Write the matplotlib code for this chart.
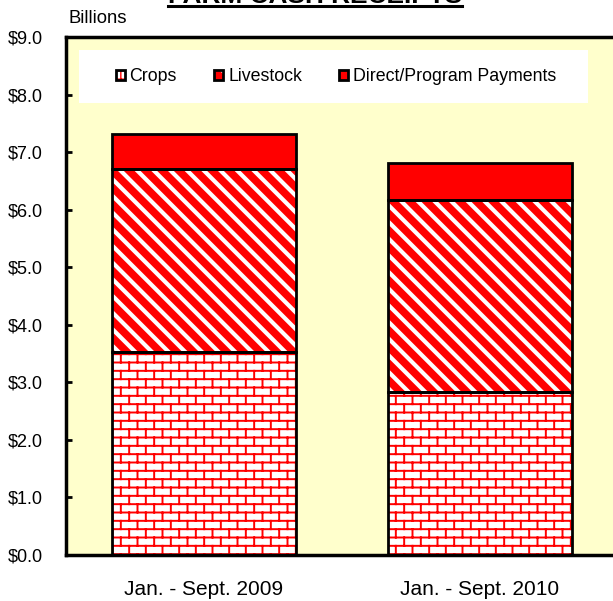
import warnings
import matplotlib
matplotlib.use('Agg')
import matplotlib.pyplot as plt
from matplotlib import hatch as mhatch
from matplotlib.path import Path
from matplotlib.patches import Rectangle
from matplotlib.lines import Line2D
from matplotlib.legend_handler import HandlerTuple

warnings.filterwarnings('ignore')
plt.rcParams['font.family'] = ['Liberation Sans', 'DejaVu Sans']

periods = ['Jan. - Sept. 2009', 'Jan. - Sept. 2010']
crops = [3.52, 2.83]
livestock = [3.18, 3.33]
direct = [0.61, 0.65]
series_names = ['Crops', 'Livestock', 'Direct/Program Payments']
yticks = [0, 1, 2, 3, 4, 5, 6, 7, 8, 9]


class BrickHatch(mhatch.HatchPatternBase):
    # staggered brick texture, hatch char 'b'
    def __init__(self, hatch, density):
        n = hatch.count('b')
        self.rows = n * density * 2
        self.cols = n * density
        self.num_vertices = 2 * (self.rows + self.rows * self.cols + self.cols) if n else 0

    def set_vertices_and_codes(self, vertices, codes):
        segs = []
        h = 1.0 / self.rows
        for k in range(self.rows):
            y = (k + 0.5) * h
            segs.append(((0, y), (1, y)))
        for k in range(self.rows):
            y0 = (k + 0.5) * h
            y1 = y0 + h
            for j in range(self.cols):
                xx = (j + 0.25 + 0.5 * (k % 2)) / self.cols
                if y1 <= 1:
                    segs.append(((xx, y0), (xx, y1)))
                else:
                    segs.append(((xx, y0), (xx, 1)))
                    segs.append(((xx, 0), (xx, y1 - 1)))
        for i, (a, b) in enumerate(segs):
            vertices[2 * i] = a
            vertices[2 * i + 1] = b
            codes[2 * i] = Path.MOVETO
            codes[2 * i + 1] = Path.LINETO


mhatch._hatch_types.append(BrickHatch)


def hatch_lw(patches, lw):
    # per-artist hatch linewidth (rcParams is global otherwise)
    for p in patches:
        if hasattr(p, 'set_hatch_linewidth'):
            p.set_hatch_linewidth(lw)
        else:
            orig = p.draw

            def draw(renderer, _orig=orig):
                with plt.rc_context({'hatch.linewidth': lw}):
                    _orig(renderer)
            p.draw = draw


fig = plt.figure(figsize=(6.13, 6.01), dpi=100)
ax = fig.add_axes([0.107, 0.0765, 0.9005, 0.862])
ax.set_facecolor('#FFFFCC')

x = list(range(len(periods)))
w = 0.667
bottom2 = [c + l for c, l in zip(crops, livestock)]

b1 = ax.bar(x, crops, w, color='white', edgecolor='red', linewidth=0, hatch='b')
b2 = ax.bar(x, livestock, w, bottom=crops, color='red', edgecolor='white', linewidth=0, hatch='\\\\')
b3 = ax.bar(x, direct, w, bottom=bottom2, color='red', linewidth=0)
hatch_lw(b1, 1.4)
hatch_lw(b2, 3.0)

o1 = ax.bar(x, crops, w, fill=False, edgecolor='black', linewidth=2.0)
o2 = ax.bar(x, livestock, w, bottom=crops, fill=False, edgecolor='black', linewidth=2.0)
o3 = ax.bar(x, direct, w, bottom=bottom2, fill=False, edgecolor='black', linewidth=2.0)

ax.set_xlim(-0.5, 1.5)
ax.set_ylim(0, 9)
ax.set_yticks(yticks)
ax.set_yticklabels(['${:.1f}'.format(v) for v in yticks], fontsize=13)
ax.set_xticks(x)
ax.set_xticklabels(periods, fontsize=15)
ax.tick_params(axis='y', direction='in', length=4, width=2, pad=16.5)
ax.tick_params(axis='x', length=0, pad=18)
for s in ['left', 'bottom', 'top']:
    ax.spines[s].set_linewidth(2.5)
ax.spines['right'].set_visible(False)

# legend box
ax.add_patch(Rectangle((0.0235, 0.8726), 0.9225, 0.1024, transform=ax.transAxes,
                       facecolor='white', edgecolor='none', zorder=4))
leg = ax.legend([(b1[0], o1[0]), (b2[0], o2[0]), (b3[0], o3[0])], series_names,
                handler_map={tuple: HandlerTuple(ndivide=1)},
                loc='center', bbox_to_anchor=(0.4899, 0.9238), ncol=3, frameon=False,
                fontsize=12.8, handlelength=0.5, handleheight=0.5,
                handletextpad=0.28, columnspacing=2.1)
leg.set_zorder(5)

fig.text(0.111, 0.97, 'Billions', fontsize=13.3, ha='left', va='center')

title = fig.text(0.514, 1 - 3 / 601, 'FARM CASH RECEIPTS', fontsize=18.9,
                 fontweight='bold', ha='center', va='baseline')
fig.canvas.draw()
bb = title.get_window_extent()
fig.add_artist(Line2D([bb.x0, bb.x1], [601 - 6, 601 - 6], transform=None,
                      color='black', linewidth=2.2))

fig.savefig('out.png', dpi=100)
